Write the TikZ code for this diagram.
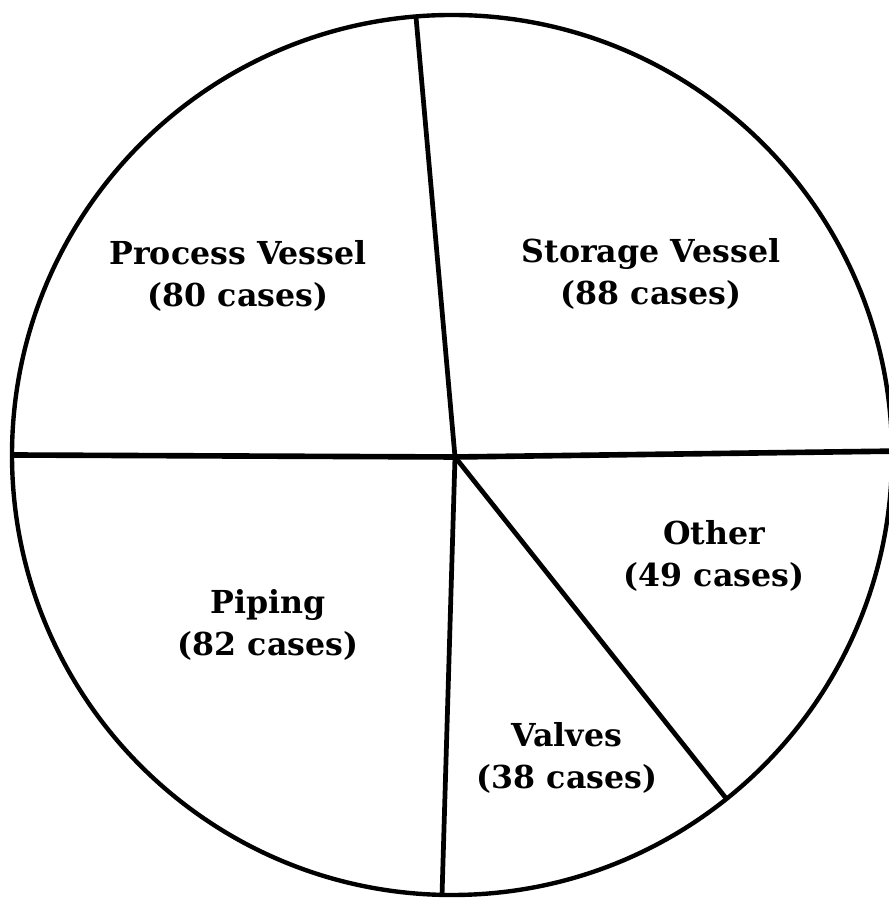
\documentclass[tikz,border=0pt]{standalone}
\usepackage{fontspec}
\setmainfont{DejaVu Serif}
\usepackage{tikz}
\usetikzlibrary{calc}

\begin{document}
\begin{tikzpicture}[x=0.02cm, y=0.02cm]
		\tikzstyle{Rim}		= [line width=2.5pt]
		\tikzstyle{Cut}		= [line width=2.7pt]
		\tikzstyle{Thick}	= [line width=3.2pt]
		\tikzstyle{Slice}	= [align=center, inner sep=0pt, font=\fontsize{18}{23.8}\selectfont\bfseries]

		\useasboundingbox (0,0) rectangle (888,901);

		\coordinate (c) at (452,446);
		\coordinate (hub) at (455,444);
		\coordinate (top) at ($(c)+(94.7:440)$);
		\coordinate (left) at ($(c)+(180:440)$);
		\coordinate (bottom) at ($(c)+(268.7:440)$);
		\coordinate (cut) at ($(c)+(-51.4:440)$);
		\coordinate (right) at ($(c)+(0.5:440)$);

		\draw[Rim] (c) circle (440);
		\draw[Cut] (hub) -- (top);
		\draw[Thick] (left) -- (hub) -- (right);
		\draw[Cut] (hub) -- (bottom);
		\draw[Cut] (hub) -- (cut);

		\node (process) at (238,625) [Slice] {Process Vessel\\(80 cases)};
		\node (storage) at (651,627) [Slice] {Storage Vessel\\(88 cases)};
		\node (other)   at (714,345) [Slice] {Other\\(49 cases)};
		\node (piping)  at (268,276) [Slice] {Piping\\(82 cases)};
		\node (valves)  at (567,143) [Slice] {Valves\\(38 cases)};
	\end{tikzpicture}
\end{document}
